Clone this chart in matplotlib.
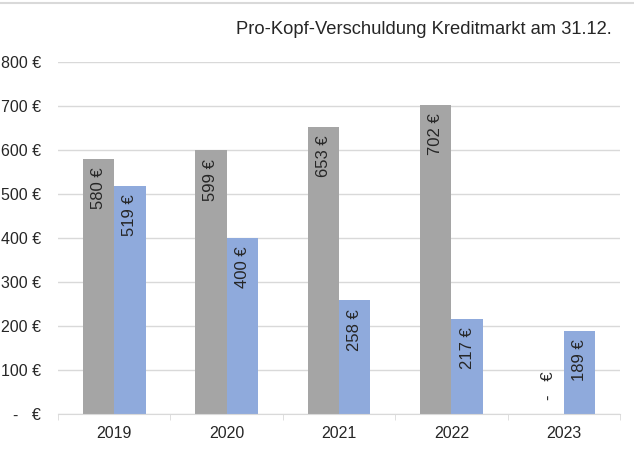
import matplotlib.pyplot as plt
from matplotlib.lines import Line2D
import numpy as np

plt.rcParams['font.family'] = ['Liberation Sans', 'DejaVu Sans']

years = ['2019', '2020', '2021', '2022', '2023']
series_a = [580, 599, 653, 702, 0]
series_b = [519, 400, 258, 217, 189]
yticks = [0, 100, 200, 300, 400, 500, 600, 700, 800]
ytick_labels = ['-   €', '100 €', '200 €', '300 €', '400 €', '500 €', '600 €', '700 €', '800 €']
title = 'Pro-Kopf-Verschuldung Kreditmarkt am 31.12.'

color_a = '#A5A5A5'
color_b = '#8FAADC'


def euro(v):
    return '-   €' if v == 0 else f'{v} €'


fig = plt.figure(figsize=(6.34, 4.5), dpi=100)
ax = fig.add_axes([58 / 634, 36 / 450, 562 / 634, 352 / 450])

x = np.arange(len(years))
w = 0.28
bars_a = ax.bar(x - w / 2, series_a, w, color=color_a, zorder=2)
bars_b = ax.bar(x + w / 2, series_b, w, color=color_b, zorder=2)

for bars, vals in ((bars_a, series_a), (bars_b, series_b)):
    for b, v in zip(bars, vals):
        cx = b.get_x() + b.get_width() / 2
        if v == 0:
            ax.annotate(euro(v), (cx, 0), xytext=(0, 10), textcoords='offset points',
                        rotation=90, ha='center', va='bottom', fontsize=12, color='#262626')
        else:
            ax.annotate(euro(v), (cx, v), xytext=(0, -6), textcoords='offset points',
                        rotation=90, ha='center', va='top', fontsize=12, color='#262626')

ax.set_xlim(-0.49, len(years) - 0.54)
ax.set_ylim(0, 800)
ax.set_yticks(yticks)
ax.set_yticklabels(ytick_labels, fontsize=11.5, color='#262626')
ax.set_xticks(x)
ax.set_xticklabels(years, fontsize=11.5, color='#262626')
ax.tick_params(axis='y', length=0, pad=12)
ax.tick_params(axis='x', length=0, pad=9)
ax.set_xticks(np.arange(len(years) + 1) - 0.5, minor=True)
ax.tick_params(axis='x', which='minor', length=4, color='#D9D9D9')

ax.grid(axis='y', color='#D9D9D9', linewidth=1, zorder=0)
for s in ['top', 'right', 'left']:
    ax.spines[s].set_visible(False)
ax.spines['bottom'].set_color('#D9D9D9')
ax.spines['bottom'].set_zorder(3)

fig.text(612 / 634, 1 - 30 / 450, title, ha='right', va='center', fontsize=13.2, color='#262626')
fig.add_artist(Line2D([0, 1], [1 - 3 / 450, 1 - 3 / 450], color='#D9D9D9', linewidth=1.5))

fig.savefig('out.png', dpi=100)
